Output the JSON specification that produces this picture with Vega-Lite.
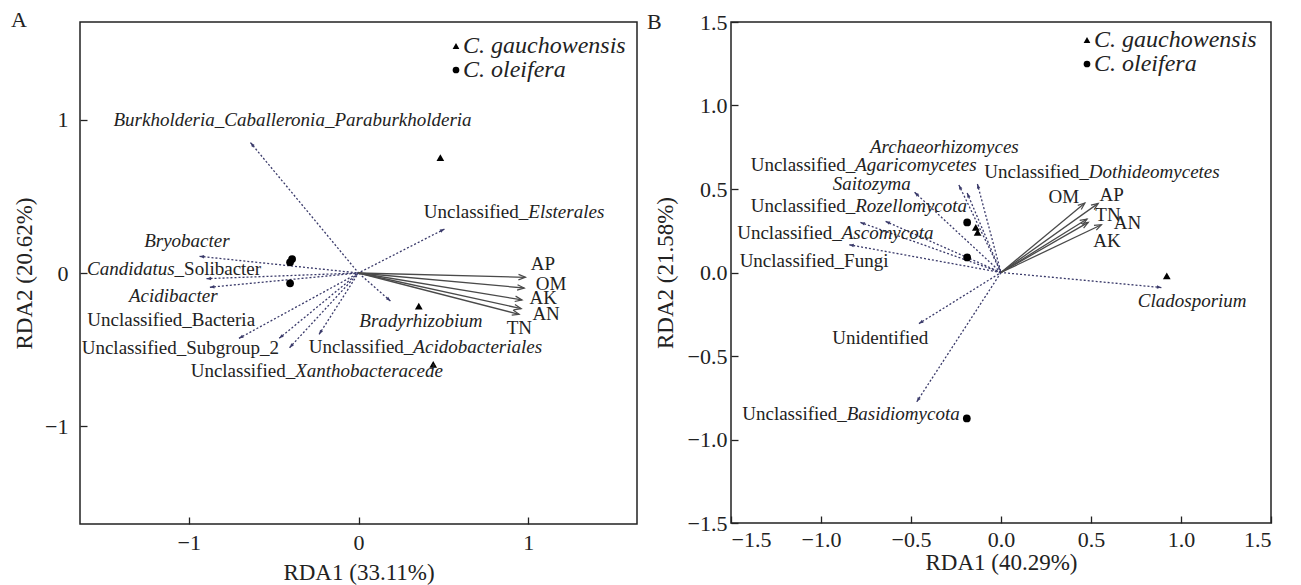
{
  "$schema": "https://vega.github.io/schema/vega-lite/v6.json",
  "padding": {"left": 10, "top": 7, "right": 5, "bottom": 5},
  "background": "white",
  "config": {
    "view": {"stroke": "#222", "strokeWidth": 1.5},
    "font": "'Liberation Serif', 'Times New Roman', Times, 'DejaVu Serif', serif",
    "axis": {"domain": false, "grid": false, "tickSize": -7, "tickColor": "#222", "tickWidth": 1.3,
      "labelFont": "'Liberation Serif', 'Times New Roman', Times, 'DejaVu Serif', serif", "labelFontSize": 22, "labelColor": "#222",
      "titleFont": "'Liberation Serif', 'Times New Roman', Times, 'DejaVu Serif', serif", "titleFontSize": 23, "titleFontWeight": "normal", "titleColor": "#222"},
    "legend": {"labelFont": "'Liberation Serif', 'Times New Roman', Times, 'DejaVu Serif', serif", "labelFontSize": 24, "labelFontStyle": "italic", "labelColor": "#222",
      "labelLimit": 400, "symbolFillColor": "#000", "symbolStrokeColor": "#000", "symbolSize": 45, "rowPadding": 0, "labelOffset": -5,
      "orient": "none", "padding": 0},
    "title": {"font": "'Liberation Serif', 'Times New Roman', Times, 'DejaVu Serif', serif", "fontSize": 22, "fontWeight": "normal", "color": "#222", "anchor": "start", "frame": "group", "baseline": "alphabetic", "offset": 0},
    "text": {"font": "'Liberation Serif', 'Times New Roman', Times, 'DejaVu Serif', serif"}
  },
  "datasets": {
    "aVec": [
      {"name": "AP", "kind": "env", "x": 0.983, "y": -0.028},
      {"name": "OM", "kind": "env", "x": 0.976, "y": -0.098},
      {"name": "AK", "kind": "env", "x": 0.963, "y": -0.176},
      {"name": "AN", "kind": "env", "x": 0.958, "y": -0.233},
      {"name": "TN", "kind": "env", "x": 0.946, "y": -0.270},
      {"name": "Burkholderia_Caballeronia_Paraburkholderia", "kind": "taxon", "x": -0.636, "y": 0.852},
      {"name": "Unclassified_Elsterales", "kind": "taxon", "x": 0.506, "y": 0.287},
      {"name": "Bryobacter", "kind": "taxon", "x": -0.936, "y": 0.109},
      {"name": "Candidatus_Solibacter", "kind": "taxon", "x": -0.895, "y": -0.037},
      {"name": "Acidibacter", "kind": "taxon", "x": -0.875, "y": -0.093},
      {"name": "Unclassified_Bacteria", "kind": "taxon", "x": -0.704, "y": -0.427},
      {"name": "Unclassified_Subgroup_2", "kind": "taxon", "x": -0.467, "y": -0.427},
      {"name": "Unclassified_Xanthobacteracede", "kind": "taxon", "x": -0.406, "y": -0.488},
      {"name": "Unclassified_Acidobacteriales", "kind": "taxon", "x": -0.232, "y": -0.401},
      {"name": "Bradyrhizobium", "kind": "taxon", "x": 0.188, "y": -0.183}
    ],
    "aLab": [
      {"x": -1.443, "y": 1.0, "it": "Burkholderia_Caballeronia_Paraburkholderia"},
      {"x": 1.0, "y": 0.396, "pre": "Unclassified_", "it": "Elsterales"},
      {"x": -1.262, "y": 0.211, "it": "Bryobacter"},
      {"x": -1.083, "y": 0.026, "itl": "Candidatus", "post": "_Solibacter"},
      {"x": -1.352, "y": -0.150, "it": "Acidibacter"},
      {"x": -1.597, "y": -0.307, "post": "Unclassified_Bacteria"},
      {"x": -1.63, "y": -0.488, "post": "Unclassified_Subgroup_2"},
      {"x": -0.373, "y": -0.640, "pre": "Unclassified_", "it": "Xanthobacteracede"},
      {"x": 0.323, "y": -0.484, "pre": "Unclassified_", "it": "Acidobacteriales"},
      {"x": 0.005, "y": -0.314, "it": "Bradyrhizobium"},
      {"x": 1.015, "y": 0.059, "post": "AP"},
      {"x": 1.044, "y": -0.070, "post": "OM"},
      {"x": 1.007, "y": -0.161, "post": "AK"},
      {"x": 1.024, "y": -0.266, "post": "AN"},
      {"x": 0.873, "y": -0.357, "post": "TN"}
    ],
    "aPts": [
      {"species": "C. gauchowensis", "x": 0.482, "y": 0.754},
      {"species": "C. gauchowensis", "x": 0.355, "y": -0.216},
      {"species": "C. gauchowensis", "x": 0.440, "y": -0.597},
      {"species": "C. oleifera", "x": -0.391, "y": 0.091},
      {"species": "C. oleifera", "x": -0.403, "y": 0.070},
      {"species": "C. oleifera", "x": -0.403, "y": -0.067}
    ],
    "bVec": [
      {"name": "OM", "kind": "env", "x": 0.466, "y": 0.416},
      {"name": "AP", "kind": "env", "x": 0.540, "y": 0.414},
      {"name": "TN", "kind": "env", "x": 0.478, "y": 0.320},
      {"name": "AN", "kind": "env", "x": 0.485, "y": 0.300},
      {"name": "AK", "kind": "env", "x": 0.558, "y": 0.286},
      {"name": "Unclassified_Agaricomycetes", "kind": "taxon", "x": -0.234, "y": 0.524},
      {"name": "Unclassified_Dothideomycetes", "kind": "taxon", "x": -0.131, "y": 0.530},
      {"name": "Archaeorhizomyces", "kind": "taxon", "x": -0.188, "y": 0.476},
      {"name": "Saitozyma", "kind": "taxon", "x": -0.480, "y": 0.480},
      {"name": "Unclassified_Rozellomycota", "kind": "taxon", "x": -0.641, "y": 0.306},
      {"name": "Unclassified_Ascomycota", "kind": "taxon", "x": -0.781, "y": 0.300},
      {"name": "Unclassified_Fungi", "kind": "taxon", "x": -0.843, "y": 0.166},
      {"name": "Cladosporium", "kind": "taxon", "x": 0.891, "y": -0.090},
      {"name": "Unidentified", "kind": "taxon", "x": -0.456, "y": -0.306},
      {"name": "Unclassified_Basidiomycota", "kind": "taxon", "x": -0.468, "y": -0.774}
    ],
    "bLab": [
      {"x": -0.728, "y": 0.75, "it": "Archaeorhizomyces"},
      {"x": -0.81, "y": 0.646, "pre": "Unclassified_", "it": "Agaricomycetes"},
      {"x": 0.488, "y": 0.60, "pre": "Unclassified_", "it": "Dothideomycetes"},
      {"x": -0.935, "y": 0.53, "it": "Saitozyma"},
      {"x": -0.81, "y": 0.40, "pre": "Unclassified_", "it": "Rozellomycota"},
      {"x": -0.885, "y": 0.234, "pre": "Unclassified_", "it": "Ascomycota"},
      {"x": -1.452, "y": 0.07, "post": "Unclassified_Fungi"},
      {"x": 0.760, "y": -0.17, "it": "Cladosporium"},
      {"x": -0.9375, "y": -0.39, "post": "Unidentified"},
      {"x": -0.857, "y": -0.846, "pre": "Unclassified_", "it": "Basidiomycota"},
      {"x": 0.264, "y": 0.45, "post": "OM"},
      {"x": 0.547, "y": 0.464, "post": "AP"},
      {"x": 0.524, "y": 0.344, "post": "TN"},
      {"x": 0.627, "y": 0.296, "post": "AN"},
      {"x": 0.512, "y": 0.186, "post": "AK"}
    ],
    "bPts": [
      {"species": "C. gauchowensis", "x": -0.14, "y": 0.27},
      {"species": "C. gauchowensis", "x": -0.13, "y": 0.24},
      {"species": "C. gauchowensis", "x": 0.921, "y": -0.02},
      {"species": "C. oleifera", "x": -0.188, "y": 0.30},
      {"species": "C. oleifera", "x": -0.188, "y": 0.09},
      {"species": "C. oleifera", "x": -0.19, "y": -0.874}
    ]
  },
  "spacing": 8,
  "resolve": {"scale": {"shape": "independent"}, "legend": {"shape": "independent"}},
  "hconcat": [
    {
      "width": 557, "height": 502,
      "title": {"text": "A", "dx": -69, "dy": 13.5},
      "encoding": {
        "x": {"field": "x", "type": "quantitative", "scale": {"domain": [-1.64, 1.64], "nice": false, "zero": false},
          "axis": {"values": [-1, 0, 1], "labelPadding": 15, "title": "RDA1 (33.11%)", "titlePadding": 8}},
        "y": {"field": "y", "type": "quantitative", "scale": {"domain": [-1.64, 1.64], "nice": false, "zero": false},
          "axis": {"values": [-1, 0, 1], "labelPadding": 19, "title": "RDA2 (20.62%)", "titlePadding": 8}}
      },
      "layer": [
        {"data": {"values": [{}]}, "mark": {"type": "rule", "color": "#b5b5b5", "strokeDash": [7, 5], "strokeWidth": 1.2},
          "encoding": {"x": {"datum": -1.64}, "x2": {"datum": 1.64}, "y": {"datum": 0}}},
        {"data": {"values": [{}]}, "mark": {"type": "rule", "color": "#b5b5b5", "strokeDash": [7, 5], "strokeWidth": 1.2},
          "encoding": {"y": {"datum": -1.64}, "y2": {"datum": 1.64}, "x": {"datum": 0}}},
        {"data": {"name": "aVec"}, "transform": [{"filter": "datum.kind === 'taxon'"}],
          "mark": {"type": "rule", "color": "#3a3a6a", "strokeDash": [2, 2], "strokeWidth": 1.3},
          "encoding": {"x2": {"datum": 0}, "y2": {"datum": 0}}},
        {"data": {"name": "aVec"}, "transform": [{"filter": "datum.kind === 'env'"}],
          "mark": {"type": "rule", "color": "#4a4a4a", "strokeWidth": 1.3},
          "encoding": {"x2": {"datum": 0}, "y2": {"datum": 0}}},
        {"data": {"name": "aVec"}, "transform": [{"filter": "datum.kind === 'taxon'"}, {"calculate": "atan2(datum.x*170, datum.y*153)*180/PI", "as": "ang"}],
          "mark": {"type": "point", "shape": "M0,0L-0.7,1.8L0.7,1.8Z", "filled": true, "size": 25, "color": "#3a3a6a", "opacity": 1},
          "encoding": {"angle": {"field": "ang", "type": "quantitative", "scale": null}}},
        {"data": {"name": "aVec"}, "transform": [{"filter": "datum.kind === 'env'"}, {"calculate": "atan2(datum.x*170, datum.y*153)*180/PI", "as": "ang"}],
          "mark": {"type": "point", "shape": "M-0.7,1.8L0,0L0.7,1.8", "filled": false, "size": 60, "color": "#4a4a4a", "strokeWidth": 1.2, "opacity": 1},
          "encoding": {"angle": {"field": "ang", "type": "quantitative", "scale": null}}},
        {"data": {"name": "aPts"}, "mark": {"type": "point", "filled": true, "size": 60, "color": "#000", "opacity": 1},
          "encoding": {"shape": {"field": "species", "type": "nominal", "scale": {"domain": ["C. gauchowensis", "C. oleifera"], "range": ["triangle-up", "circle"]},
            "legend": {"title": null, "legendX": 364, "legendY": 12}}}},
        {"data": {"name": "aLab"}, "transform": [{"filter": "isValid(datum.pre)"}], "mark": {"type": "text", "align": "right", "baseline": "middle", "fontSize": 19, "color": "#222"},
          "encoding": {"text": {"field": "pre"}}},
        {"data": {"name": "aLab"}, "transform": [{"filter": "isValid(datum.it)"}], "mark": {"type": "text", "align": "left", "baseline": "middle", "fontSize": 19, "fontStyle": "italic", "color": "#222"},
          "encoding": {"text": {"field": "it"}}},
        {"data": {"name": "aLab"}, "transform": [{"filter": "isValid(datum.itl)"}], "mark": {"type": "text", "align": "right", "baseline": "middle", "fontSize": 19, "fontStyle": "italic", "color": "#222"},
          "encoding": {"text": {"field": "itl"}}},
        {"data": {"name": "aLab"}, "transform": [{"filter": "isValid(datum.post)"}], "mark": {"type": "text", "align": "left", "baseline": "middle", "fontSize": 19, "color": "#222"},
          "encoding": {"text": {"field": "post"}}}
      ]
    },
    {
      "width": 540, "height": 501,
      "title": {"text": "B", "dx": -84, "dy": 27},
      "encoding": {
        "x": {"field": "x", "type": "quantitative", "scale": {"domain": [-1.5, 1.5], "nice": false, "zero": false},
          "axis": {"values": [-1.5, -1, -0.5, 0, 0.5, 1, 1.5], "format": ".1f", "labelPadding": 13, "title": "RDA1 (40.29%)", "titlePadding": 1}},
        "y": {"field": "y", "type": "quantitative", "scale": {"domain": [-1.5, 1.5], "nice": false, "zero": false},
          "axis": {"values": [-1.5, -1, -0.5, 0, 0.5, 1, 1.5], "format": ".1f", "labelPadding": 11, "title": "RDA2 (21.58%)", "titlePadding": 10}}
      },
      "layer": [
        {"data": {"values": [{}]}, "mark": {"type": "rule", "color": "#b5b5b5", "strokeDash": [7, 5], "strokeWidth": 1.2},
          "encoding": {"x": {"datum": -1.5}, "x2": {"datum": 1.5}, "y": {"datum": 0}}},
        {"data": {"values": [{}]}, "mark": {"type": "rule", "color": "#b5b5b5", "strokeDash": [7, 5], "strokeWidth": 1.2},
          "encoding": {"y": {"datum": -1.5}, "y2": {"datum": 1.5}, "x": {"datum": 0}}},
        {"data": {"name": "bVec"}, "transform": [{"filter": "datum.kind === 'taxon'"}],
          "mark": {"type": "rule", "color": "#3a3a6a", "strokeDash": [2, 2], "strokeWidth": 1.3},
          "encoding": {"x2": {"datum": 0}, "y2": {"datum": 0}}},
        {"data": {"name": "bVec"}, "transform": [{"filter": "datum.kind === 'env'"}],
          "mark": {"type": "rule", "color": "#4a4a4a", "strokeWidth": 1.3},
          "encoding": {"x2": {"datum": 0}, "y2": {"datum": 0}}},
        {"data": {"name": "bVec"}, "transform": [{"filter": "datum.kind === 'taxon'"}, {"calculate": "atan2(datum.x*180, datum.y*167)*180/PI", "as": "ang"}],
          "mark": {"type": "point", "shape": "M0,0L-0.7,1.8L0.7,1.8Z", "filled": true, "size": 25, "color": "#3a3a6a", "opacity": 1},
          "encoding": {"angle": {"field": "ang", "type": "quantitative", "scale": null}}},
        {"data": {"name": "bVec"}, "transform": [{"filter": "datum.kind === 'env'"}, {"calculate": "atan2(datum.x*180, datum.y*167)*180/PI", "as": "ang"}],
          "mark": {"type": "point", "shape": "M-0.7,1.8L0,0L0.7,1.8", "filled": false, "size": 60, "color": "#4a4a4a", "strokeWidth": 1.2, "opacity": 1},
          "encoding": {"angle": {"field": "ang", "type": "quantitative", "scale": null}}},
        {"data": {"name": "bPts"}, "mark": {"type": "point", "filled": true, "size": 60, "color": "#000", "opacity": 1},
          "encoding": {"shape": {"field": "species", "type": "nominal", "scale": {"domain": ["C. gauchowensis", "C. oleifera"], "range": ["triangle-up", "circle"]},
            "legend": {"title": null, "legendX": 344, "legendY": 6}}}},
        {"data": {"name": "bLab"}, "transform": [{"filter": "isValid(datum.pre)"}], "mark": {"type": "text", "align": "right", "baseline": "middle", "fontSize": 19, "color": "#222"},
          "encoding": {"text": {"field": "pre"}}},
        {"data": {"name": "bLab"}, "transform": [{"filter": "isValid(datum.it)"}], "mark": {"type": "text", "align": "left", "baseline": "middle", "fontSize": 19, "fontStyle": "italic", "color": "#222"},
          "encoding": {"text": {"field": "it"}}},
        {"data": {"name": "bLab"}, "transform": [{"filter": "isValid(datum.post)"}], "mark": {"type": "text", "align": "left", "baseline": "middle", "fontSize": 19, "color": "#222"},
          "encoding": {"text": {"field": "post"}}}
      ]
    }
  ]
}
